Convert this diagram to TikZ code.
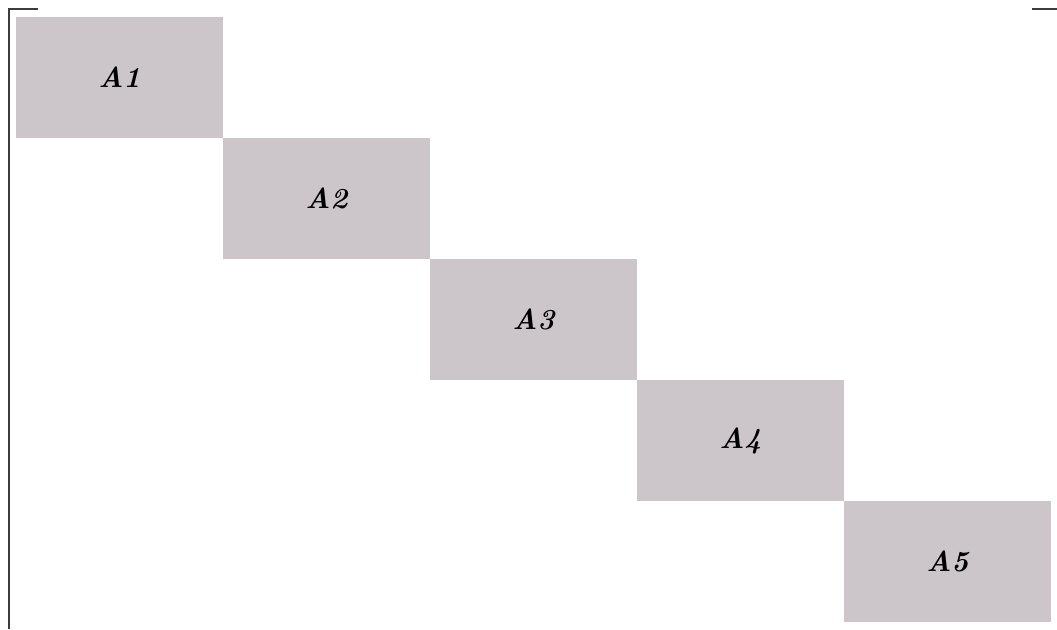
\documentclass[tikz,border=0pt]{standalone}
\usetikzlibrary{positioning}
\definecolor{blockgray}{RGB}{204,198,202}
\definecolor{framegray}{RGB}{60,60,60}
\tikzset{
  block/.style={fill=blockgray, minimum width=207pt, minimum height=121pt,
    inner sep=0pt, outer sep=0pt, font=\fontsize{29}{31}\selectfont\bfseries\itshape}
}
\begin{document}
\begin{tikzpicture}[x=1pt, y=-1pt]
  \useasboundingbox (0,0) rectangle (1057,629);
  % frame ticks
  \draw[framegray, line width=2pt] (38,9) -- (9,9) -- (9,629);
  \draw[framegray, line width=2pt] (1032,9) -- (1057,9);
  % diagonal blocks
  \node[block, anchor=north west] (a1) at (16,17) {A1};
  \node[block, below right=0pt and 0pt of a1] (a2) {A2};
  \node[block, below right=0pt and 0pt of a2] (a3) {A3};
  \node[block, below right=0pt and 0pt of a3] (a4) {A4};
  \node[block, below right=0pt and 0pt of a4] (a5) {A5};
\end{tikzpicture}
\end{document}
